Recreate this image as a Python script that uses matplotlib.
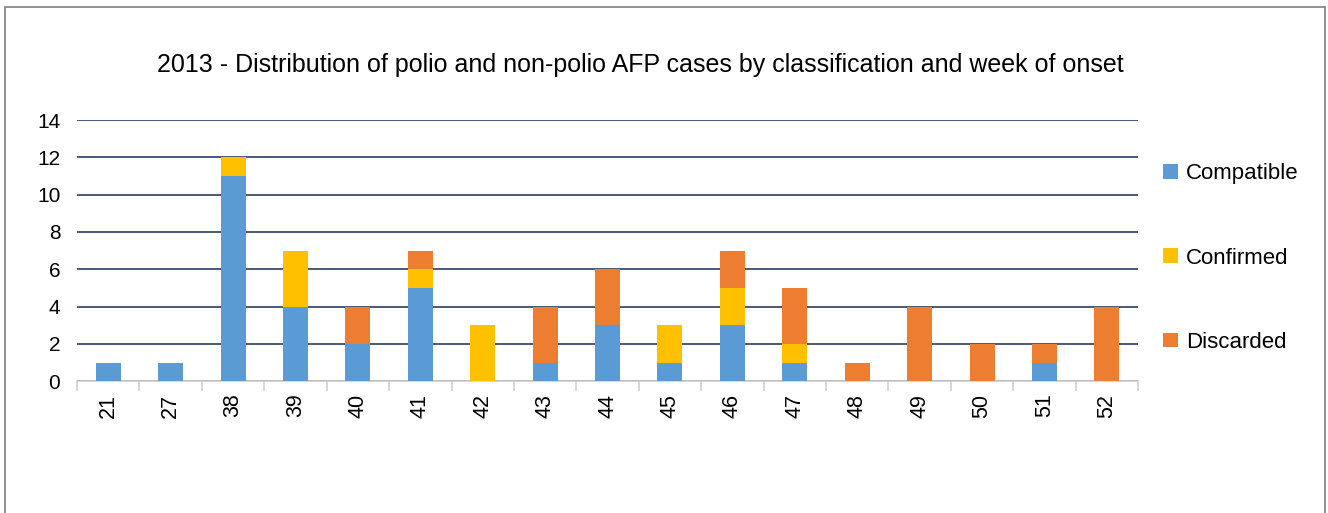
import numpy as np
import matplotlib.pyplot as plt
from matplotlib.patches import Rectangle

# Данные
weeks = ["21", "27", "38", "39", "40", "41", "42", "43", "44",
         "45", "46", "47", "48", "49", "50", "51", "52"]
compatible = [1, 1, 11, 4, 2, 5, 0, 1, 3, 1, 3, 1, 0, 0, 0, 1, 0]
confirmed = [0, 0, 1, 3, 0, 1, 3, 0, 0, 2, 2, 1, 0, 0, 0, 0, 0]
discarded = [0, 0, 0, 0, 2, 1, 0, 3, 3, 0, 2, 3, 1, 4, 2, 1, 4]

plt.rcParams['font.family'] = ['Liberation Sans', 'DejaVu Sans']

fig = plt.figure(figsize=(13.28, 5.13), dpi=100)
ax = fig.add_axes([0.058, 0.257, 0.799, 0.509])

x = np.arange(len(weeks))
comp = np.array(compatible)
conf = np.array(confirmed)
disc = np.array(discarded)
w = 0.4
ax.bar(x, comp, w, color='#5B9BD5', label='Compatible', zorder=3)
ax.bar(x, conf, w, bottom=comp, color='#FFC000', label='Confirmed', zorder=3)
ax.bar(x, disc, w, bottom=comp + conf, color='#ED7D31', label='Discarded', zorder=3)

ax.set_xlim(-0.5, len(weeks) - 0.5)
ax.set_ylim(0, 14)
ax.set_yticks(range(0, 15, 2))
ax.yaxis.grid(True, color='#3B4A6B', linewidth=1.3, zorder=0)
ax.set_axisbelow(True)

# Оси
for s in ['top', 'right', 'left']:
    ax.spines[s].set_visible(False)
ax.spines['bottom'].set_color('#D0D0D0')
ax.spines['bottom'].set_linewidth(1.2)
ax.tick_params(axis='y', length=0, labelsize=15, pad=12)
ax.set_xticks(x)
ax.set_xticklabels(weeks, rotation=90, fontsize=15.5)
ax.tick_params(axis='x', length=0, pad=9)
ax.set_xticks(np.arange(-0.5, len(weeks), 1), minor=True)
ax.tick_params(axis='x', which='minor', length=7, color='#D0D0D0', width=1.2)

fig.text(0.482, 0.874, "2013 - Distribution of polio and non-polio AFP cases by classification and week of onset",
         ha='center', va='center', fontsize=18)

fig.legend(loc='center left', bbox_to_anchor=(0.861, 0.497), frameon=False,
           fontsize=16, handlelength=0.65, handleheight=0.65, handletextpad=0.35,
           labelspacing=2.85)

# Рамка
fig.patches.append(Rectangle((0.004, -0.1), 0.994, 1.086, transform=fig.transFigure,
                             fill=False, edgecolor='#7F7F7F', linewidth=1.2))

fig.savefig('out.png', dpi=100)
